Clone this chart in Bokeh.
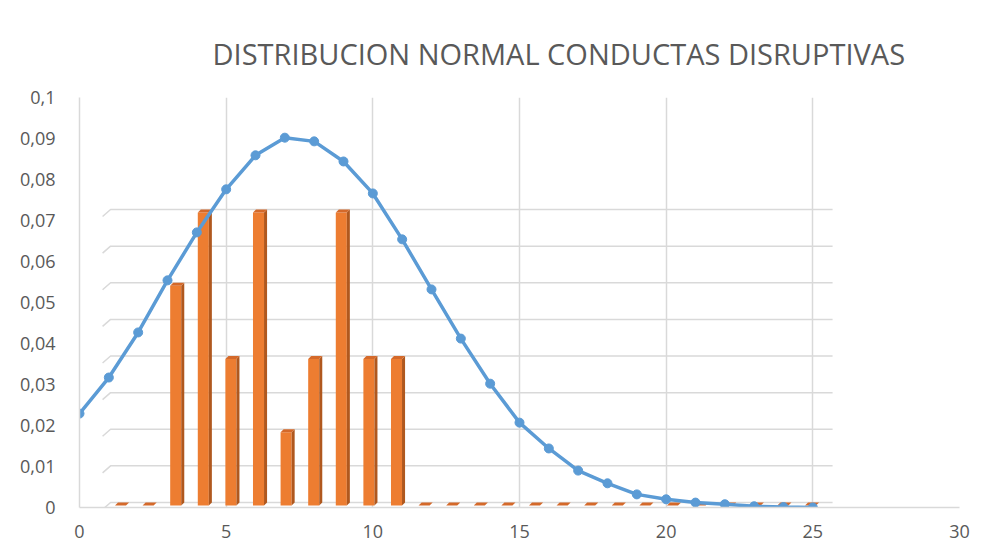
from bokeh.plotting import figure
from bokeh.models import Range1d, FixedTicker, Title
from bokeh.embed import file_html
from bokeh.resources import INLINE

# ---------------- data ----------------
curve_x = list(range(26))
curve_y = [0.0229, 0.0317, 0.0427, 0.0554, 0.0671, 0.0776, 0.0859, 0.0902,
           0.0893, 0.0844, 0.0766, 0.0654, 0.0532, 0.0412, 0.0302, 0.0207,
           0.0144, 0.0090, 0.0059, 0.0032, 0.0020, 0.0012, 0.0008, 0.0003,
           0.0001, 0.0000]

bar_cat = list(range(26))
bar_val = [0, 0, 0.06, 0.08, 0.04, 0.08, 0.02, 0.04, 0.08, 0.04, 0.04,
           0, 0, 0, 0, 0, 0, 0, 0, 0, 0, 0, 0, 0, 0, 0]
bar_grid = [0.00, 0.01, 0.02, 0.03, 0.04, 0.05, 0.06, 0.07, 0.08]

x_ticks = [0, 5, 10, 15, 20, 25, 30]
x_tick_labels = ["0", "5", "10", "15", "20", "25", "30"]
x_grid_ticks = [5, 10, 15, 20, 25]
y_ticks = [0.0, 0.01, 0.02, 0.03, 0.04, 0.05, 0.06, 0.07, 0.08, 0.09, 0.1]
y_tick_labels = ["0", "0,01", "0,02", "0,03", "0,04", "0,05", "0,06",
                 "0,07", "0,08", "0,09", "0,1"]

title_text = "DISTRIBUCION NORMAL CONDUCTAS DISRUPTIVAS"

# ---------------- style ----------------
FONT = "Open Sans"
TXT = "#595959"
GRID = "#D9D9D9"
BLUE = "#5B9BD5"
ORANGE = "#ED7D31"
ORANGE_SIDE = "#B0581E"
ORANGE_TOP = "#D4692A"

p = figure(width=972, height=542, output_backend="svg", toolbar_location=None,
           x_range=Range1d(0, 30), y_range=Range1d(0, 0.1),
           min_border_left=79, min_border_right=13, min_border_top=97,
           min_border_bottom=35)
p.extra_x_ranges = {"bars": Range1d(-1.486, 30.399)}
p.extra_y_ranges = {"bars": Range1d(-0.00055, 0.11142)}

p.title = Title(text=title_text, text_font=FONT, text_font_size="29px",
                text_font_style="normal", text_color=TXT, align="left",
                offset=133, standoff=50)

p.outline_line_color = None
p.background_fill_color = "white"
p.border_fill_color = "white"

# axes
for ax in (p.xaxis[0], p.yaxis[0]):
    ax.axis_line_color = GRID
    ax.axis_line_width = 1.5
    ax.major_tick_line_color = None
    ax.minor_tick_line_color = None
    ax.major_label_text_font = FONT
    ax.major_label_text_font_size = "18px"
    ax.major_label_text_color = TXT

p.xaxis[0].ticker = FixedTicker(ticks=x_ticks)
p.xaxis[0].major_label_overrides = dict(zip(x_ticks, x_tick_labels))
p.xaxis[0].major_label_standoff = 11
p.yaxis[0].ticker = FixedTicker(ticks=y_ticks)
p.yaxis[0].major_label_overrides = dict(zip(y_ticks, y_tick_labels))
p.yaxis[0].major_label_standoff = 18

p.xgrid.ticker = FixedTicker(ticks=x_grid_ticks)
p.xgrid.grid_line_color = GRID
p.xgrid.grid_line_width = 1.5
p.ygrid.grid_line_color = None

# ---------------- 3D bar chart (own axis) ----------------
bw = 0.2          # half width of the front face, category units
dx = 0.11         # depth offset, category units
dv = 0.00082      # depth offset, bar-axis units
wall_left = -0.36
wall_right = 25.8
slant_dx = 0.29
slant_dv = 0.0019

gx, gy = [], []
for g in bar_grid:
    gx.append([wall_left - slant_dx, wall_left, wall_right])
    gy.append([g + dv - slant_dv, g + dv, g + dv])
p.multi_line(gx, gy, line_color=GRID, line_width=1.5,
             x_range_name="bars", y_range_name="bars")

front_l, front_r, front_t, front_b = [], [], [], []
side_xs, side_ys, top_xs, top_ys = [], [], [], []
for k, v in zip(bar_cat, bar_val):
    if v > 0:
        front_l.append(k - bw)
        front_r.append(k + bw)
        front_b.append(0)
        front_t.append(v)
        side_xs.append([k + bw, k + bw + dx, k + bw + dx, k + bw])
        side_ys.append([0, dv, v + dv, v])
    top_xs.append([k - bw, k + bw, k + bw + dx, k - bw + dx])
    top_ys.append([v, v, v + dv, v + dv])

p.quad(left=front_l, right=front_r, bottom=front_b, top=front_t,
       fill_color=ORANGE, line_color=None,
       x_range_name="bars", y_range_name="bars")
p.patches(side_xs, side_ys, fill_color=ORANGE_SIDE, line_color=None,
          x_range_name="bars", y_range_name="bars")
p.patches(top_xs, top_ys, fill_color=ORANGE_TOP, line_color=None,
          x_range_name="bars", y_range_name="bars")

# ---------------- normal curve ----------------
p.line(curve_x, curve_y, line_color=BLUE, line_width=3.5)
p.scatter(curve_x, curve_y, size=9, fill_color=BLUE, line_color=BLUE)

open("out.html", "w").write(file_html(p, INLINE))
